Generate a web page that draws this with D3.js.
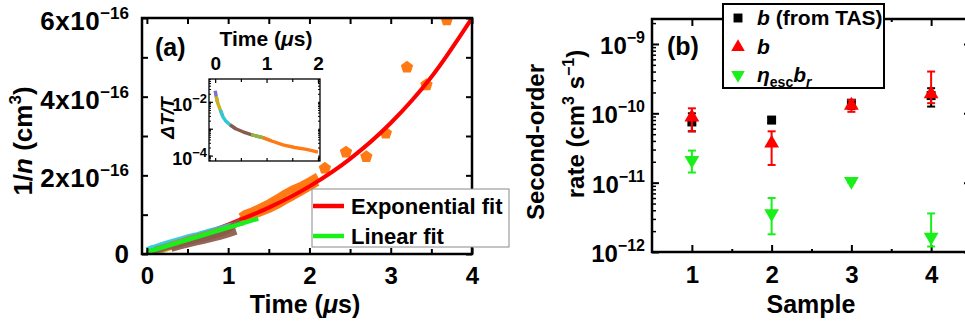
<!DOCTYPE html>
<html>
<head>
<meta charset="utf-8">
<script src="https://cdn.jsdelivr.net/npm/d3@7"></script>
<style>
  body { margin: 0; background: #fff; }
  svg text { font-family: "Liberation Sans", Arial, sans-serif; font-weight: bold; fill: #000; }
</style>
</head>
<body>
<svg id="chart" width="965" height="329"></svg>
<script>
// ---------- panel (a): 1/n (units of 1e-16 cm^3) vs time (us)
const aTicksX = [0, 1, 2, 3, 4];
const aMinorX = [0.5, 1.5, 2.5, 3.5];
const aTicksY = [0, 2, 4, 6];
const aMinorY = [1, 3, 5];

const expFitT = [0, 0.5, 1, 1.5, 2, 2.5, 3, 3.5, 4];
const expFitV = [0.05, 0.38, 0.75, 1.18, 1.72, 2.42, 3.33, 4.5, 6.0];
const linFitT = [0, 1.37];
const linFitV = [0.05, 0.9];

// measured traces (several samples overlapping near the origin)
const purpleT = [0, 0.05, 0.1, 0.2, 0.3, 0.4, 0.5];
const purpleV = [-0.02, 0.03, 0.07, 0.14, 0.2, 0.27, 0.32];
const yellowT = [0, 0.1, 0.2, 0.3, 0.4, 0.5, 0.6, 0.7, 0.8, 0.9, 1.0];
const yellowV = [0.0, 0.06, 0.12, 0.19, 0.25, 0.31, 0.37, 0.44, 0.5, 0.56, 0.62];
const cyanT = [0, 0.05, 0.1, 0.2, 0.3, 0.4, 0.5, 0.6, 0.7, 0.8, 0.9, 1.0, 1.1];
const cyanV = [0.1, 0.14, 0.17, 0.24, 0.3, 0.36, 0.42, 0.47, 0.53, 0.59, 0.64, 0.7, 0.75];
const grayT = [0.1, 0.2, 0.3, 0.4, 0.5, 0.6, 0.7, 0.8, 0.9];
const grayV = [0.14, 0.2, 0.27, 0.33, 0.4, 0.46, 0.52, 0.58, 0.64];
const pinkT = [0, 0.1, 0.2, 0.3, 0.4];
const pinkV = [0.04, 0.1, 0.15, 0.21, 0.27];
const oliveT = [0.3, 0.4, 0.5, 0.6, 0.7, 0.8, 0.9, 1.0, 1.1, 1.2];
const oliveV = [0.25, 0.31, 0.37, 0.43, 0.49, 0.55, 0.61, 0.68, 0.75, 0.8];
const brownT = [0.02, 0.1, 0.2, 0.3, 0.4, 0.5, 0.6, 0.7, 0.8, 0.9, 1.0, 1.05, 1.1, 1.15];
const brownV = [0.03, 0.09, 0.14, 0.2, 0.25, 0.3, 0.35, 0.4, 0.45, 0.51, 0.6, 0.7, 0.78, 0.82];
const brownLoT = [0.3, 0.4, 0.5, 0.6, 0.7, 0.8, 0.9, 1.0, 1.1];
const brownLoV = [0.14, 0.2, 0.25, 0.3, 0.35, 0.4, 0.45, 0.51, 0.58];
const orangeT = [1.15, 1.2, 1.3, 1.4, 1.5, 1.6, 1.7, 1.8, 1.9, 2.0, 2.1];
const orangeHiV = [0.95, 1.02, 1.1, 1.2, 1.3, 1.42, 1.55, 1.66, 1.75, 1.86, 1.98];
const orangeLoV = [0.86, 0.9, 0.97, 1.05, 1.13, 1.23, 1.35, 1.46, 1.58, 1.7, 1.82];
const pentT = [2.19, 2.45, 2.70, 2.94, 3.20, 3.44, 3.69];
const pentV = [2.18, 2.59, 2.47, 3.07, 4.75, 4.30, 5.95];

// inset: dT/T decay
const insetTicksX = [0, 1, 2];
const insetMinorX = [0.5, 1.5];
const insetT = [0, 0.02, 0.05, 0.1, 0.15, 0.2, 0.29, 0.4, 0.54, 0.7, 0.93, 1.1, 1.32, 1.55, 1.78, 2.0];
const insetV = [2.6e-2, 1.6e-2, 9e-3, 5e-3, 2.8e-3, 2.0e-3, 1.4e-3, 1.0e-3, 7.7e-4, 6.0e-4, 4.7e-4, 3.5e-4, 2.5e-4, 2.0e-4, 1.7e-4, 1.35e-4];
const insetSegs = [[0, 2, "#7b6fd6"], [1, 4, "#c9b21c"], [3, 7, "#2fc6d6"], [6, 10, "#8a5a4e"], [9, 11, "#8fb640"], [10, 15, "#ff7a14"]];

// ---------- panel (b): second-order rates
const samples = [1, 2, 3, 4];
const bTas = [7.5e-11, 8.0e-11, 1.4e-10, 1.8e-10];
const bTasLo = [5.5e-11, 7.2e-11, 1.15e-10, 1.25e-10];
const bTasHi = [1.0e-10, 8.8e-11, 1.5e-10, 2.3e-10];
const bFit = [8.8e-11, 3.7e-11, 1.3e-10, 1.9e-10];
const bFitLo = [5.5e-11, 1.8e-11, 1.05e-10, 1.4e-10];
const bFitHi = [1.18e-10, 5.5e-11, 1.55e-10, 4.0e-10];
const etaBr = [2.1e-11, 3.6e-12, 1.05e-11, 1.65e-12];
const etaBrLo = [1.4e-11, 1.8e-12, 1.0e-11, 1.2e-12];
const etaBrHi = [2.9e-11, 6.0e-12, 1.1e-11, 3.6e-12];
const bTicksY = [1e-12, 1e-11, 1e-10, 1e-9];
const bTickExp = ["−12", "−11", "−10", "−9"];
const bMinorX = [1.5, 2.5, 3.5];

const RED = "#ff0000", GREEN = "#19f019", ORANGE = "#ff7a14";

const svg = d3.select("#chart");
svg.append("rect").attr("width", 965).attr("height", 329).attr("fill", "#fff");

function rich(text, parts) {
  parts.forEach(p => {
    const t = text.append("tspan").text(p.t);
    if (p.i) t.style("font-style", "italic");
    if (p.s) t.attr("font-size", p.s);
    if (p.dy) t.attr("dy", p.dy);
    if (p.ls) t.attr("letter-spacing", p.ls);
  });
  return text;
}
function noLabels(g) { g.select(".domain").remove(); g.selectAll("text").remove(); }
function tickStyle(g, w) { g.selectAll("line").attr("stroke", "#000").attr("stroke-width", w); }
const intFmt = d3.format("d");

// ================= panel (a)
const xA = d3.scaleLinear().domain([-0.06, 4]).range([142, 472]);
const yA = d3.scaleLinear().domain([0, 6]).range([254, 18]);

svg.append("clipPath").attr("id", "clipA").append("rect")
  .attr("x", 142).attr("y", 18).attr("width", 330).attr("height", 236);
const plotA = svg.append("g").attr("clip-path", "url(#clipA)");
const lineA = d3.line().x(d => xA(d[0])).y(d => yA(d[1]));
const zip = (t, v) => t.map((d, i) => [d, v[i]]);

[orangeHiV, orangeLoV].forEach(v => {
  plotA.append("path").attr("d", lineA(zip(orangeT, v))).attr("fill", "none")
    .attr("stroke", ORANGE).attr("stroke-width", 7).attr("stroke-linejoin", "round");
});
const pentagon = r => {
  const pts = d3.range(5).map(k => {
    const a = -Math.PI / 2 + k * 2 * Math.PI / 5;
    return [r * Math.cos(a), r * Math.sin(a)];
  });
  return "M" + pts.join("L") + "Z";
};
plotA.selectAll(".pent").data(zip(pentT, pentV)).join("path")
  .attr("d", pentagon(6.5)).attr("fill", ORANGE)
  .attr("transform", d => `translate(${xA(d[0])},${yA(d[1])})`);

plotA.append("path").attr("d", d3.line().x(d => xA(d[0])).y(d => yA(d[1])).curve(d3.curveMonotoneX)(zip(expFitT, expFitV)))
  .attr("fill", "none").attr("stroke", RED).attr("stroke-width", 4);

const traces = [
  [purpleT, purpleV, "#9467bd", 6], [yellowT, yellowV, "#d4a21a", 7], [brownLoT, brownLoV, "#8c5a4b", 7],
  [cyanT, cyanV, "#2cc8d8", 6], [grayT, grayV, "#8f8f8f", 4], [pinkT, pinkV, "#e377c2", 4],
  [oliveT, oliveV, "#a8963a", 5], [brownT, brownV, "#8c5a4b", 6]
];
traces.forEach(([t, v, c, w]) => {
  plotA.append("path").attr("d", lineA(zip(t, v))).attr("fill", "none")
    .attr("stroke", c).attr("stroke-width", w).attr("stroke-linejoin", "round").attr("opacity", 0.92);
});
plotA.append("path").attr("d", lineA(zip(linFitT, linFitV)))
  .attr("fill", "none").attr("stroke", GREEN).attr("stroke-width", 4.5);

// frame + ticks (inward)
svg.append("g").attr("transform", "translate(0,254)")
  .call(d3.axisBottom(xA).tickValues(aTicksX).tickFormat(intFmt).tickSize(-6).tickPadding(13))
  .call(g => { g.select(".domain").remove(); tickStyle(g, 2);
    g.selectAll("text").attr("font-size", 24).attr("font-family", null); });
svg.append("g").attr("transform", "translate(0,254)")
  .call(d3.axisBottom(xA).tickValues(aMinorX).tickSize(-5)).call(noLabels).call(g => tickStyle(g, 2));
svg.append("g").attr("transform", "translate(0,18)")
  .call(d3.axisTop(xA).tickValues(aTicksX.concat(aMinorX)).tickSize(-6)).call(noLabels).call(g => tickStyle(g, 2));
svg.append("g").attr("transform", "translate(142,0)")
  .call(d3.axisLeft(yA).tickValues(aTicksY.concat(aMinorY)).tickSize(-6)).call(noLabels).call(g => tickStyle(g, 2));
svg.append("g").attr("transform", "translate(472,0)")
  .call(d3.axisRight(yA).tickValues(aTicksY.concat(aMinorY)).tickSize(-6)).call(noLabels).call(g => tickStyle(g, 2));
svg.append("rect").attr("x", 142).attr("y", 18).attr("width", 330).attr("height", 236)
  .attr("fill", "none").attr("stroke", "#000").attr("stroke-width", 2.5);

aTicksY.forEach(v => {
  const t = svg.append("text").attr("text-anchor", "end").attr("font-size", 26)
    .attr("x", 129).attr("y", yA(v) + (v === 0 ? 9 : 12));
  if (v === 0) t.text("0");
  else rich(t, [{ t: v + "x10", ls: 0.5 }, { t: "−16", s: 17, dy: -11, ls: 0 }]);
});
rich(svg.append("text").attr("text-anchor", "middle").attr("font-size", 26)
  .attr("transform", "translate(32,141) rotate(-90)"),
  [{ t: "1/" }, { t: "n", i: true }, { t: " (cm" }, { t: "3", s: 17, dy: -11 }, { t: ")", dy: 11 }]);
rich(svg.append("text").attr("text-anchor", "middle").attr("font-size", 25).attr("x", 305).attr("y", 313),
  [{ t: "Time (" }, { t: "μ", i: true }, { t: "s)" }]);
svg.append("text").attr("x", 155).attr("y", 56).attr("font-size", 25).text("(a)");

// legend (a)
const legA = svg.append("g");
legA.append("rect").attr("x", 312).attr("y", 189).attr("width", 197).attr("height", 58)
  .attr("fill", "#fff").attr("stroke", "#8a8a8a").attr("stroke-width", 1);
[["Exponential fit", RED, 206], ["Linear fit", GREEN, 236]].forEach(([lab, c, y]) => {
  legA.append("line").attr("x1", 313).attr("x2", 344).attr("y1", y).attr("y2", y)
    .attr("stroke", c).attr("stroke-width", 4.5);
  legA.append("text").attr("x", 351).attr("y", y + 8).attr("font-size", 22).text(lab);
});

// inset
const xI = d3.scaleLinear().domain([-0.12, 2.04]).range([209, 320]);
const yI = d3.scaleLog().domain([Math.pow(10, -4.2), Math.pow(10, -1.15)]).range([161, 79]);
svg.append("rect").attr("x", 209).attr("y", 79).attr("width", 111).attr("height", 82).attr("fill", "#fff");
const lineI = d3.line().x(d => xI(d[0])).y(d => yI(d[1]));
const insetPts = zip(insetT, insetV);
insetSegs.forEach(([a, b, c]) => {
  svg.append("path").attr("d", lineI(insetPts.slice(a, b + 1))).attr("fill", "none")
    .attr("stroke", c).attr("stroke-width", 3.4).attr("stroke-linejoin", "round");
});
svg.append("g").attr("transform", "translate(0,79)")
  .call(d3.axisTop(xI).tickValues(insetTicksX).tickFormat(intFmt).tickSize(-4).tickPadding(9))
  .call(g => { g.select(".domain").remove(); tickStyle(g, 1.2);
    g.selectAll("text").attr("font-size", 19).attr("font-family", null); });
svg.append("g").attr("transform", "translate(0,79)")
  .call(d3.axisTop(xI).tickValues(insetMinorX).tickSize(-3)).call(noLabels).call(g => tickStyle(g, 1.2));
svg.append("g").attr("transform", "translate(0,161)")
  .call(d3.axisBottom(xI).tickValues(insetTicksX.concat(insetMinorX)).tickSize(-3)).call(noLabels).call(g => tickStyle(g, 1.2));
svg.append("g").attr("transform", "translate(209,0)")
  .call(d3.axisLeft(yI).tickValues(yI.ticks()).tickSize(-2)).call(noLabels).call(g => tickStyle(g, 1));
svg.append("g").attr("transform", "translate(209,0)")
  .call(d3.axisLeft(yI).tickValues([1e-4, 1e-3, 1e-2]).tickSize(-4)).call(noLabels).call(g => tickStyle(g, 1.2));
svg.append("g").attr("transform", "translate(320,0)")
  .call(d3.axisRight(yI).tickValues(yI.ticks()).tickSize(-2)).call(noLabels).call(g => tickStyle(g, 1));
svg.append("rect").attr("x", 209).attr("y", 79).attr("width", 111).attr("height", 82)
  .attr("fill", "none").attr("stroke", "#000").attr("stroke-width", 1.3);
[[1e-2, "−2"], [1e-4, "−4"]].forEach(([v, e]) => {
  rich(svg.append("text").attr("text-anchor", "end").attr("font-size", 18)
    .attr("x", 207).attr("y", yI(v) + 9), [{ t: "10" }, { t: e, s: 13, dy: -8 }]);
});
rich(svg.append("text").attr("text-anchor", "middle").attr("font-size", 21).attr("x", 266).attr("y", 46),
  [{ t: "Time (" }, { t: "μ", i: true }, { t: "s)" }]);
svg.append("text").attr("text-anchor", "middle").attr("font-size", 19).style("font-style", "italic")
  .attr("transform", "translate(174,118) rotate(-90)").text("ΔT/T");

// ================= panel (b)
const xB = d3.scaleLinear().domain([0.5, 4.5]).range([652, 971]);
const yB = d3.scaleLog().domain([1e-12, Math.pow(10, -8.64)]).range([252, 19]);

svg.append("g").attr("transform", "translate(0,252)")
  .call(d3.axisBottom(xB).tickValues(samples).tickFormat(intFmt).tickSize(-7).tickPadding(14))
  .call(g => { g.select(".domain").remove(); tickStyle(g, 2);
    g.selectAll("text").attr("font-size", 24).attr("font-family", null); });
svg.append("g").attr("transform", "translate(0,252)")
  .call(d3.axisBottom(xB).tickValues(bMinorX).tickSize(-3)).call(noLabels).call(g => tickStyle(g, 2));
svg.append("g").attr("transform", "translate(0,19)")
  .call(d3.axisTop(xB).tickValues(samples).tickSize(-7)).call(noLabels).call(g => tickStyle(g, 2));
svg.append("g").attr("transform", "translate(0,19)")
  .call(d3.axisTop(xB).tickValues(bMinorX).tickSize(-3)).call(noLabels).call(g => tickStyle(g, 2));
const bMinorY = yB.ticks().filter(v => !bTicksY.includes(v));
[[652, d3.axisLeft], [971, d3.axisRight]].forEach(([x, ax]) => {
  svg.append("g").attr("transform", `translate(${x},0)`)
    .call(ax(yB).tickValues(bTicksY).tickSize(-7)).call(noLabels).call(g => tickStyle(g, 2));
  svg.append("g").attr("transform", `translate(${x},0)`)
    .call(ax(yB).tickValues(bMinorY).tickSize(-4)).call(noLabels).call(g => tickStyle(g, 1.5));
});
svg.append("rect").attr("x", 652).attr("y", 19).attr("width", 319).attr("height", 233)
  .attr("fill", "none").attr("stroke", "#000").attr("stroke-width", 2.5);

bTicksY.forEach((v, i) => {
  rich(svg.append("text").attr("text-anchor", "end").attr("font-size", 24)
    .attr("x", 645).attr("y", yB(v) + 10), [{ t: "10" }, { t: bTickExp[i], s: 16, dy: -11 }]);
});
svg.append("text").attr("text-anchor", "middle").attr("font-size", 24)
  .attr("transform", "translate(544,142) rotate(-90)").text("Second-order");
rich(svg.append("text").attr("text-anchor", "middle").attr("font-size", 24)
  .attr("transform", "translate(584,124) rotate(-90)"),
  [{ t: "rate (cm" }, { t: "3", s: 16, dy: -10 }, { t: " s", dy: 10 }, { t: "−1", s: 16, dy: -10 }, { t: ")", dy: 10 }]);
svg.append("text").attr("text-anchor", "middle").attr("font-size", 25).attr("x", 811).attr("y", 313).text("Sample");
svg.append("text").attr("x", 667).attr("y", 55).attr("font-size", 25).text("(b)");

const seriesB = [
  [bTas, bTasLo, bTasHi, "#000", d3.symbolSquare, 80, 0],
  [bFit, bFitLo, bFitHi, RED, d3.symbolTriangle, 95, 0],
  [etaBr, etaBrLo, etaBrHi, GREEN, d3.symbolTriangle, 95, 180]
];
seriesB.forEach(([v, lo, hi, c, sym, size, rot]) => {
  const g = svg.append("g");
  samples.forEach((s, i) => {
    const x = xB(s);
    g.append("line").attr("x1", x).attr("x2", x).attr("y1", yB(lo[i])).attr("y2", yB(hi[i]))
      .attr("stroke", c).attr("stroke-width", 2);
    [lo[i], hi[i]].forEach(e => g.append("line").attr("x1", x - 4).attr("x2", x + 4)
      .attr("y1", yB(e)).attr("y2", yB(e)).attr("stroke", c).attr("stroke-width", 2));
    g.append("path").attr("d", d3.symbol(sym, size)()).attr("fill", c)
      .attr("transform", `translate(${x},${yB(v[i])}) rotate(${rot})`);
  });
});

// legend (b)
const legB = svg.append("g");
legB.append("rect").attr("x", 723).attr("y", 4).attr("width", 161).attr("height", 84)
  .attr("fill", "#fff").attr("stroke", "#000").attr("stroke-width", 2);
const legItems = [
  [d3.symbolSquare, "#000", 0, 18, [{ t: "b", i: true }, { t: " (from TAS)" }]],
  [d3.symbolTriangle, RED, 0, 47, [{ t: "b", i: true }]],
  [d3.symbolTriangle, GREEN, 180, 75, [{ t: "η", i: true }, { t: "esc", s: 14, dy: 5 }, { t: "b", i: true, dy: -5 }, { t: "r", i: true, s: 14, dy: 5 }]]
];
legItems.forEach(([sym, c, rot, y, parts]) => {
  legB.append("path").attr("d", d3.symbol(sym, 80)()).attr("fill", c)
    .attr("transform", `translate(738,${y}) rotate(${rot})`);
  rich(legB.append("text").attr("x", 757).attr("y", y + 7).attr("font-size", 21), parts);
});
</script>
</body>
</html>
